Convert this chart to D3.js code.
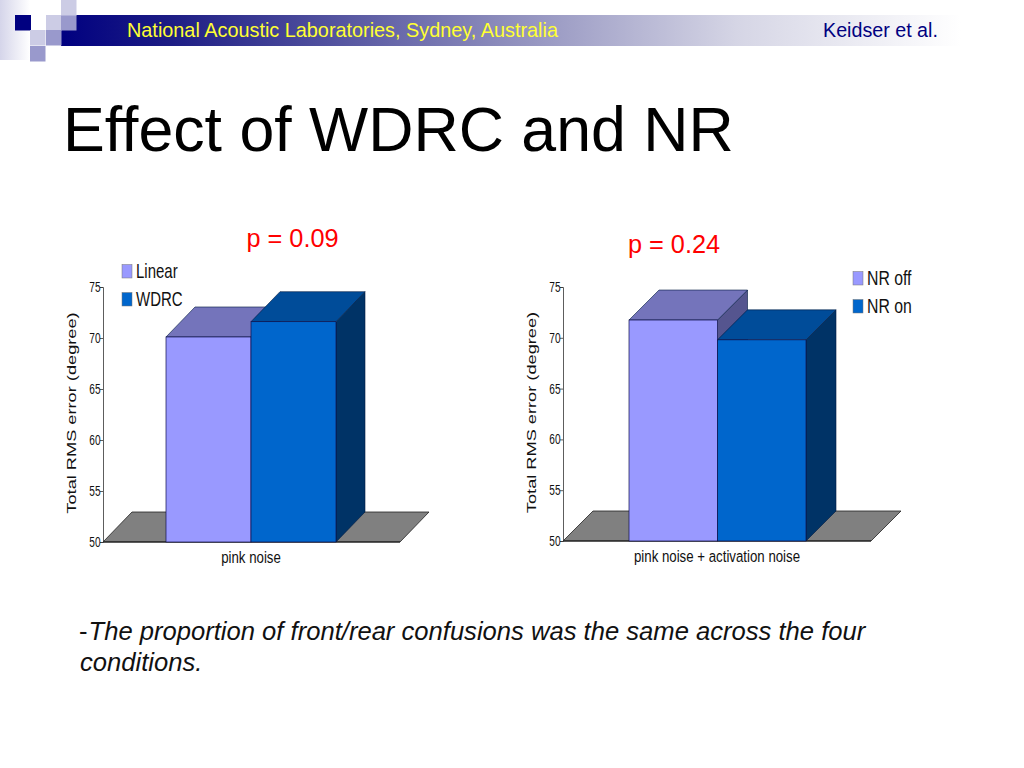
<!DOCTYPE html>
<html><head><meta charset="utf-8">
<style>html,body{margin:0;padding:0;background:#fff}svg{display:block}</style>
<script src="https://cdn.jsdelivr.net/npm/d3@7/dist/d3.min.js"></script>
</head><body><svg id="c" width="1024" height="768"></svg>
<script>
const yTicks = [50,55,60,65,70,75];
const leftCategory = "pink noise";
const leftSeries = ["Linear","WDRC"];
const leftValues = [70.1,71.6];
const rightCategory = "pink noise + activation noise";
const rightSeries = ["NR off","NR on"];
const rightValues = [71.75,69.8];
const yLabel = "Total RMS error (degree)";
const sans = "'Liberation Sans',Arial,sans-serif";
const svg = d3.select("#c");
const defs = svg.append("defs");
const g1 = defs.append("linearGradient").attr("id","band");
[[0,"#000080"],[0.12,"#1c1c84"],[0.5,"#8f8fbd"],[0.75,"#d5d5e5"],[1,"#ffffff"]].forEach(s=>g1.append("stop").attr("offset",s[0]).attr("stop-color",s[1]));
const g2 = defs.append("linearGradient").attr("id","fade");
[[0,"#d5d5ea"],[1,"#ffffff"]].forEach(s=>g2.append("stop").attr("offset",s[0]).attr("stop-color",s[1]));

svg.append("rect").attr("x",0).attr("y",0).attr("width",30).attr("height",60).attr("fill","url(#fade)");
svg.append("rect").attr("x",61).attr("y",15).attr("width",900).attr("height",31).attr("fill","url(#band)");
const squares = [[15,15,"#000080"],[46,15,"#ccccE5"],[61,15,"#9999cc"],[61,0,"#ccccE5"],[30,30,"#ccccE5"],[46,30,"#9999cc"],[30,46,"#9999cc"]];
svg.selectAll("rect.sq").data(squares).join("rect").attr("class","sq")
  .attr("x",d=>d[0]).attr("y",d=>d[1]).attr("width",d=>d[0]==15?16:15.5).attr("height",15.5).attr("fill",d=>d[2]);

svg.append("text").attr("x",127).attr("y",37).attr("font-family",sans).attr("font-size",19.85).attr("fill","#ffff33").text("National Acoustic Laboratories, Sydney, Australia");
svg.append("text").attr("x",823).attr("y",37).attr("font-family",sans).attr("font-size",19.7).attr("fill","#000080").text("Keidser et al.");
svg.append("text").attr("x",63).attr("y",151).attr("font-family",sans).attr("font-size",62.65).attr("fill","#000").text("Effect of WDRC and NR");

// condensed text: real text squeezed horizontally, since no narrow face is installed
function squeezed(sel,x,y,f){ return sel.attr("transform",`translate(${x},${y}) scale(${f},1)`); }

function chart(o){
  const g = svg.append("g");
  const y = d3.scaleLinear().domain([50,75]).range([o.y0,o.y1]);
  const x = d3.scaleBand().domain(o.series).range([o.bx0,o.bx1]);
  const dx = o.dx, dy = o.dy;
  g.append("path").attr("d",`M${o.ax},${o.y0}L${o.ax+dx},${o.y0-dy}L${o.fx+dx},${o.y0-dy}L${o.fx},${o.y0}Z`)
    .attr("fill","#808080").attr("stroke","#222").attr("stroke-width",0.8);
  g.append("line").attr("x1",o.ax).attr("x2",o.fx).attr("y1",o.y0).attr("y2",o.y0).attr("stroke","#111").attr("stroke-width",1.2);
  const cols = [{f:"#9999ff",t:"#7474bb",s:"#55558f"},{f:"#0066cc",t:"#004c99",s:"#003366"}];
  o.series.forEach((s,i)=>{
    const v=o.values[i], X=x(s), W=x.bandwidth(), T=y(v);
    g.append("path").attr("d",`M${X+W},${T}L${X+W+dx},${T-dy}L${X+W+dx},${o.y0-dy}L${X+W},${o.y0}Z`).attr("fill",cols[i].s).attr("stroke","#001a40").attr("stroke-width",0.6);
    g.append("path").attr("d",`M${X},${T}L${X+dx},${T-dy}L${X+W+dx},${T-dy}L${X+W},${T}Z`).attr("fill",cols[i].t).attr("stroke","#001a40").attr("stroke-width",0.6);
  });
  o.series.forEach((s,i)=>{
    g.append("rect").attr("x",x(s)).attr("y",y(o.values[i])).attr("width",x.bandwidth()).attr("height",o.y0-y(o.values[i]))
      .attr("fill",cols[i].f).attr("stroke","#10104a").attr("stroke-width",0.7);
  });
  const ax = d3.axisLeft(y).tickValues(yTicks).tickSize(3).tickPadding(2);
  const a = g.append("g").attr("transform",`translate(${o.ax},0)`).call(ax);
  a.selectAll("path,line").attr("stroke","#333").attr("stroke-width",0.8);
  a.selectAll("text").attr("font-family",sans).attr("font-size",14).attr("fill","#111").attr("transform","scale(0.72,1)").attr("x",-2.5/0.72);
  g.append("text").attr("transform",`translate(${o.ax-27},${(o.y0+o.y1)/2-1.5}) rotate(-90) scale(1.35,1)`).attr("text-anchor","middle")
    .attr("font-family",sans).attr("font-size",13.5).attr("fill","#111").text(yLabel);
  squeezed(g.append("text"),o.catX,o.catY,0.78).attr("text-anchor","middle").attr("font-family",sans).attr("font-size",17).attr("fill","#111").text(o.category);
  o.series.forEach((s,i)=>{
    const ly=o.legY+i*o.legStep;
    g.append("rect").attr("x",o.legX).attr("y",ly-6.5).attr("width",10).attr("height",13.5).attr("fill",cols[i].f).attr("stroke","#777").attr("stroke-width",0.5);
    squeezed(g.append("text"),o.legX+14,ly+7,o.legScale).attr("font-family",sans).attr("font-size",20).attr("fill","#111").text(s);
  });
  g.append("text").attr("x",o.pX).attr("y",o.pY).attr("text-anchor","middle").attr("font-family",sans).attr("font-size",25.3).attr("fill","#ff0000").text(o.p);
}
chart({series:leftSeries,values:leftValues,category:leftCategory,p:"p = 0.09",y0:542,y1:287,ax:103,fx:400,bx0:166,bx1:336,dx:29,dy:30,catX:251,catY:563,legX:122,legY:271,legStep:28,legScale:0.75,pX:292.5,pY:247});
chart({series:rightSeries,values:rightValues,category:rightCategory,p:"p = 0.24",y0:541,y1:287,ax:563,fx:871,bx0:629,bx1:806,dx:30,dy:30,catX:717,catY:562,legX:853,legY:278,legStep:28,legScale:0.79,pX:674,pY:253});

const body = svg.append("text").attr("font-family",sans).attr("font-size",25.6).attr("fill","#111");
body.append("tspan").attr("x",79).attr("y",640).text("-");
body.append("tspan").attr("font-style","italic").attr("dx",1).text("The proportion of front/rear confusions was the same across the four");
body.append("tspan").attr("x",80).attr("y",671).attr("font-style","italic").text("conditions.");
</script></body></html>
